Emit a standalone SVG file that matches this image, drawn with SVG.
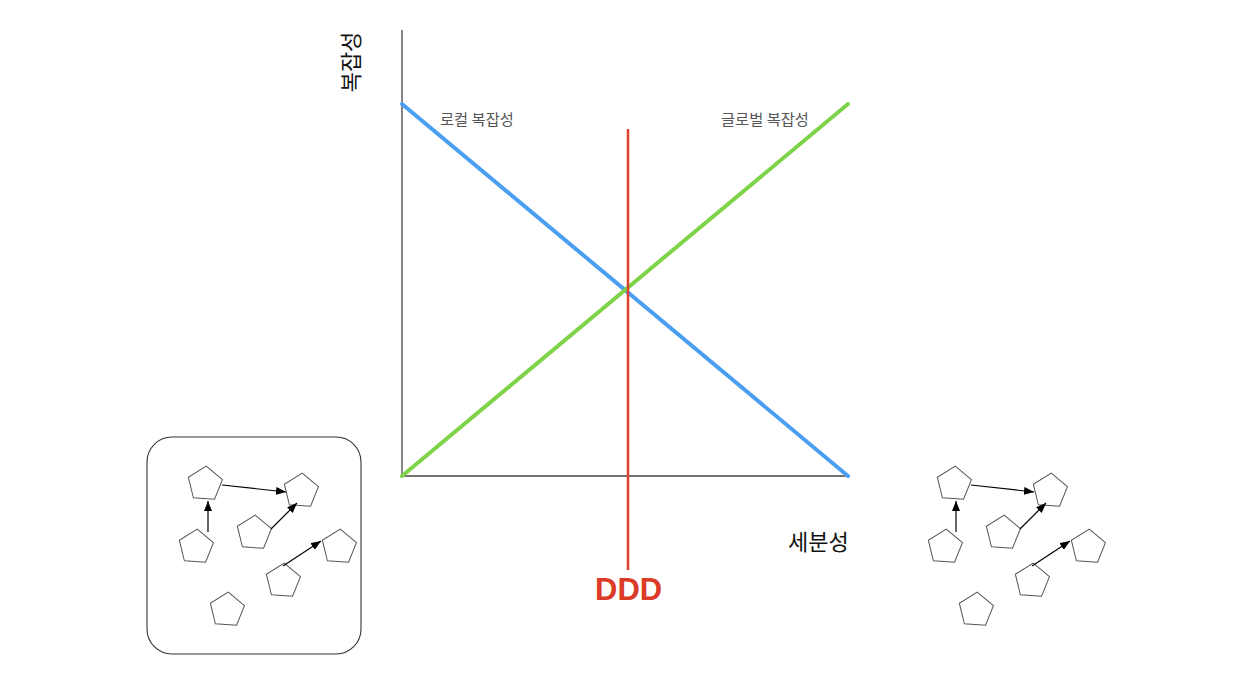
<svg xmlns="http://www.w3.org/2000/svg" xmlns:xlink="http://www.w3.org/1999/xlink" width="1242" height="682" viewBox="0 0 1242 682">
<style>
.axis{stroke:#444;stroke-width:1.3;fill:none}
.pent{fill:#fff;stroke:#555;stroke-width:1}
.arr{stroke:#000;stroke-width:1.2;fill:none;marker-end:url(#ah)}
.kr{font-family:"Noto Sans CJK KR","Noto Sans",sans-serif}
.lbl{font-size:15.3px;fill:#555}
.big{font-size:22px;fill:#111}
</style>
<defs>
<marker id="ah" markerUnits="userSpaceOnUse" markerWidth="10" markerHeight="8" viewBox="0 0 10 8" refX="10" refY="4" orient="auto">
<path d="M0,0 L10,4 L0,8 z" fill="#000"/>
</marker>
<polygon id="pg" points="0,-18 17.1,-5.6 10.6,14.6 -10.6,14.6 -17.1,-5.6"/>
</defs>
<rect width="1242" height="682" fill="#fff"/>

<g id="chart">
<line class="axis" x1="402" y1="30" x2="402" y2="476"/>
<line class="axis" x1="402" y1="476" x2="848" y2="476"/>
</g>
<g id="connectors">
<line id="local-line" x1="402" y1="104" x2="848" y2="476" stroke="#4a9ff2" stroke-width="4" stroke-linecap="round"/>
<line id="global-line" x1="402" y1="476" x2="848" y2="104" stroke="#7ed349" stroke-width="4" stroke-linecap="round"/>
<line id="ddd-line" x1="628" y1="129" x2="628" y2="570" stroke="#e0412f" stroke-width="2.5"/>
</g>

<g id="labels">
<text class="kr big" transform="translate(359,62) rotate(-90)" text-anchor="middle">복잡성</text>
<text class="kr lbl" x="440" y="125">로컬 복잡성</text>
<text class="kr lbl" x="721" y="125">글로벌 복잡성</text>
<text class="kr big" x="788" y="550">세분성</text>
<text x="595" y="600" font-family="'Liberation Sans',Arial,sans-serif" font-weight="bold" font-size="31" fill="#dc3b28">DDD</text>
</g>

<g id="monolith">
<rect x="147" y="437" width="214" height="217" rx="25" ry="25" fill="none" stroke="#333" stroke-width="1.1"/>
<g id="m-p1"><use xlink:href="#pg" class="pent" transform="translate(205,484) rotate(4)"/></g>
<g id="m-p2"><use xlink:href="#pg" class="pent" transform="translate(301,491) rotate(4)"/></g>
<g id="m-p3"><use xlink:href="#pg" class="pent" transform="translate(196,547) rotate(4)"/></g>
<g id="m-p4"><use xlink:href="#pg" class="pent" transform="translate(254,533) rotate(4)"/></g>
<g id="m-p5"><use xlink:href="#pg" class="pent" transform="translate(339,547) rotate(4)"/></g>
<g id="m-p6"><use xlink:href="#pg" class="pent" transform="translate(283,581) rotate(4)"/></g>
<g id="m-p7"><use xlink:href="#pg" class="pent" transform="translate(227,610) rotate(4)"/></g>
<g id="m-arrows">
<line class="arr" x1="208" y1="532" x2="208" y2="501"/>
<line class="arr" x1="222" y1="485" x2="286" y2="492"/>
<line class="arr" x1="271" y1="529" x2="297" y2="503"/>
<line class="arr" x1="283" y1="566" x2="321" y2="541"/>
</g>
</g>

<g id="services">
<g id="s-p1"><use xlink:href="#pg" class="pent" transform="translate(954,484) rotate(4)"/></g>
<g id="s-p2"><use xlink:href="#pg" class="pent" transform="translate(1050,491) rotate(4)"/></g>
<g id="s-p3"><use xlink:href="#pg" class="pent" transform="translate(945,547) rotate(4)"/></g>
<g id="s-p4"><use xlink:href="#pg" class="pent" transform="translate(1003,533) rotate(4)"/></g>
<g id="s-p5"><use xlink:href="#pg" class="pent" transform="translate(1088,547) rotate(4)"/></g>
<g id="s-p6"><use xlink:href="#pg" class="pent" transform="translate(1032,581) rotate(4)"/></g>
<g id="s-p7"><use xlink:href="#pg" class="pent" transform="translate(976,610) rotate(4)"/></g>
<g id="s-arrows">
<line class="arr" x1="956" y1="532" x2="956" y2="501"/>
<line class="arr" x1="971" y1="485" x2="1034" y2="492"/>
<line class="arr" x1="1020" y1="529" x2="1046" y2="503"/>
<line class="arr" x1="1032" y1="566" x2="1070" y2="541"/>
</g>
</g>
</svg>
